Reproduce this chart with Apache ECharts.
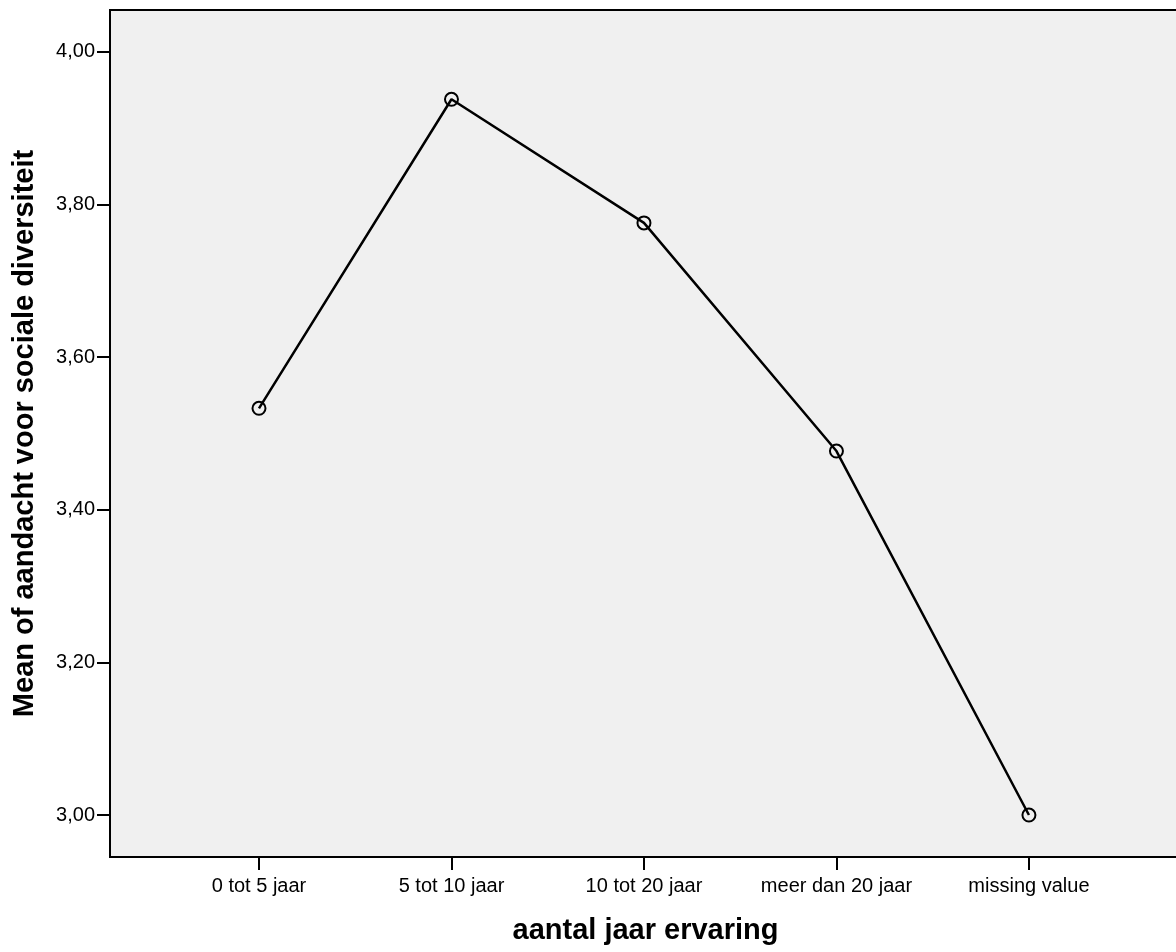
<!DOCTYPE html>
<html>
<head>
<meta charset="utf-8">
<script src="https://cdn.jsdelivr.net/npm/echarts@6/dist/echarts.min.js"></script>
<style>html,body{margin:0;padding:0;background:#fff;overflow:hidden}#c{width:1181px;height:952px}</style>
</head>
<body>
<div id="c"></div>
<script>
const categories = ['0 tot 5 jaar', '5 tot 10 jaar', '10 tot 20 jaar', 'meer dan 20 jaar', 'missing value'];
const means = [3.533, 3.938, 3.776, 3.477, 3.000];
const yTicks = [3.0, 3.2, 3.4, 3.6, 3.8, 4.0];

const chart = echarts.init(document.getElementById('c'));
const font = 'Liberation Sans, Arial, sans-serif';
chart.setOption({
  animation: false,
  grid: {left: 110, top: 10, right: 0, bottom: 95, show: true, backgroundColor: '#f0f0f0', borderColor: '#000', borderWidth: 2},
  xAxis: {
    type: 'value', min: -0.774, max: 4.79,
    name: 'aantal jaar ervaring', nameLocation: 'middle', nameGap: 59,
    nameTextStyle: {fontFamily: font, fontSize: 29, fontWeight: 'bold', color: '#000'},
    axisLine: {show: true, onZero: false, lineStyle: {color: '#000', width: 2}},
    axisTick: {show: true, length: 13, lineStyle: {color: '#000', width: 2}, customValues: categories.map((c, i) => i)},
    axisLabel: {margin: 19, fontFamily: font, fontSize: 20, color: '#000', customValues: categories.map((c, i) => i), formatter: v => categories[Math.round(v)]},
    splitLine: {show: false}
  },
  yAxis: {
    type: 'value', min: 2.945, max: 4.055,
    name: 'Mean of aandacht voor sociale diversiteit', nameLocation: 'middle', nameGap: 71,
    nameTextStyle: {fontFamily: font, fontSize: 29, fontWeight: 'bold', color: '#000'},
    axisLine: {show: true, onZero: false, lineStyle: {color: '#000', width: 2}},
    axisTick: {show: true, length: 13, lineStyle: {color: '#000', width: 2}, customValues: yTicks},
    axisLabel: {margin: 15, fontFamily: font, fontSize: 20, color: '#000', customValues: yTicks, formatter: v => v.toFixed(2).replace('.', ',')},
    splitLine: {show: false}
  },
  series: [{
    type: 'line',
    data: means.map((v, i) => [i, v]),
    symbol: 'circle', symbolSize: 13,
    lineStyle: {color: '#000', width: 2.5},
    itemStyle: {color: 'rgba(0,0,0,0)', borderColor: '#000', borderWidth: 2}
  }]
});
</script>
</body>
</html>
